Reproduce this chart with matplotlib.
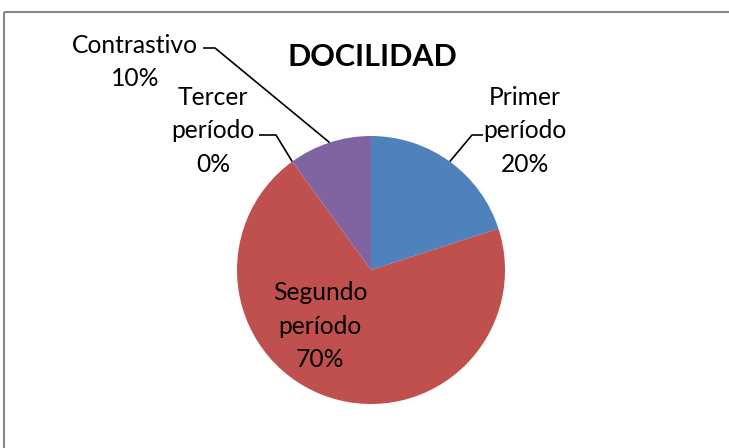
import matplotlib.pyplot as plt
from matplotlib.patches import Rectangle
import numpy as np

plt.rcParams['font.family'] = ['Lato', 'DejaVu Sans']

# data
title = 'DOCILIDAD'
categories = ['Primer\nperíodo', 'Segundo\nperíodo', 'Tercer\nperíodo', 'Contrastivo']
values = [20, 70, 0, 10]
colors = ['#4F81BD', '#C0504D', '#9BBB59', '#8064A2']

W, H = 729, 448
fig = plt.figure(figsize=(W / 100, H / 100), dpi=100)
ax = fig.add_axes([0, 0, 1, 1])

cx, cy, r = 371, 270, 134
# y axis is inverted, so mirror the angles: start at top, go clockwise
wedges, _ = ax.pie(values, colors=colors, startangle=-90, counterclock=True,
                   center=(cx, cy), radius=r, frame=True,
                   wedgeprops=dict(linewidth=0))
ax.set_xlim(0, W)
ax.set_ylim(H, 0)
ax.set_aspect('equal')
ax.axis('off')

# chart frame (runs off the right / bottom edges)
ax.add_patch(Rectangle((4.5, 12.5), W + 10, H + 10, fill=False,
                       edgecolor='#868686', lw=1.5))

total = sum(values)
# label centre, leader elbow, leader end (None = label inside slice)
label_pos = [
    ((525, 131), (472, 135), (483, 135)),
    ((320, 326), None, None),
    ((213, 131), (276, 135), (259, 135)),
    ((135, 62), (215, 48), (203, 48)),
]

for w, cat, v, (tpos, elbow, end) in zip(wedges, categories, values, label_pos):
    pct = f'{v / total * 100:.0f}%'
    ax.text(tpos[0], tpos[1], f'{cat}\n{pct}', ha='center', va='center',
            fontsize=17.7, linespacing=1.56, color='black')
    if elbow is not None:
        mid = np.radians((w.theta1 + w.theta2) / 2)
        ax_x = cx + r * np.cos(mid)
        ax_y = cy + r * np.sin(mid)
        ax.plot([ax_x, elbow[0], end[0]], [ax_y, elbow[1], end[1]],
                color='black', lw=1.2, solid_capstyle='butt')

ax.text(372, 57, title, ha='center', va='center', fontsize=22,
        fontweight='bold', color='black')

fig.savefig('out.png', dpi=100)
